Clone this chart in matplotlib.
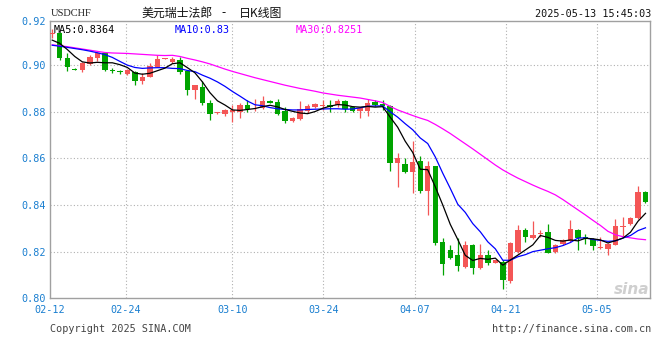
import matplotlib
matplotlib.use('Agg')
import matplotlib.pyplot as plt
import numpy as np

# ---------------- data ----------------
tick_labels = ['02-12', '02-24', '03-10', '03-24', '04-07', '04-21', '05-05']
tick_pos = [-0.3, 9.8, 24.0, 36.1, 48.3, 60.4, 72.5]

y_tick_vals = [0.80, 0.82, 0.84, 0.86, 0.88, 0.90, 0.9188]
y_tick_labels = ['0.80', '0.82', '0.84', '0.86', '0.88', '0.90', '0.92']

opens = [0.9131, 0.9137, 0.9029, 0.8983, 0.8979, 0.9005, 0.9031, 0.9050, 0.8977, 0.8970,
         0.8962, 0.8970, 0.8929, 0.8950, 0.8993, 0.9026, 0.9012, 0.9022, 0.8972, 0.8892,
         0.8905, 0.8837, 0.8793, 0.8791, 0.8799, 0.8799, 0.8830, 0.8809, 0.8816, 0.8847,
         0.8840, 0.8804, 0.8759, 0.8770, 0.8801, 0.8820, 0.8825, 0.8830, 0.8826, 0.8844,
         0.8818, 0.8801, 0.8804, 0.8840, 0.8833, 0.8823, 0.8578, 0.8575, 0.8539, 0.8589,
         0.8461, 0.8567, 0.8241, 0.8209, 0.8184, 0.8132, 0.8227, 0.8128, 0.8187, 0.8153,
         0.8156, 0.8074, 0.8199, 0.8294, 0.8258, 0.8277, 0.8284, 0.8199, 0.8234, 0.8244,
         0.8291, 0.8263, 0.8255, 0.8216, 0.8213, 0.8230, 0.8307, 0.8319, 0.8343, 0.8457]
highs = [0.9153, 0.9142, 0.9050, 0.8986, 0.9014, 0.9044, 0.9054, 0.9052, 0.8988, 0.8979,
         0.8982, 0.8975, 0.8965, 0.9008, 0.9043, 0.9031, 0.9033, 0.9033, 0.8977, 0.8915,
         0.8929, 0.8851, 0.8798, 0.8809, 0.8826, 0.8837, 0.8851, 0.8854, 0.8868, 0.8849,
         0.8854, 0.8818, 0.8775, 0.8847, 0.8834, 0.8837, 0.8848, 0.8851, 0.8854, 0.8851,
         0.8822, 0.8818, 0.8854, 0.8851, 0.8851, 0.8826, 0.8624, 0.8600, 0.8674, 0.8610,
         0.8589, 0.8567, 0.8260, 0.8227, 0.8260, 0.8244, 0.8234, 0.8234, 0.8206, 0.8165,
         0.8163, 0.8241, 0.8315, 0.8301, 0.8333, 0.8294, 0.8319, 0.8234, 0.8255, 0.8336,
         0.8295, 0.8277, 0.8260, 0.8262, 0.8239, 0.8340, 0.8350, 0.8350, 0.8480, 0.8461]
lows = [0.9114, 0.9021, 0.8972, 0.8976, 0.8969, 0.8998, 0.9015, 0.8975, 0.8965, 0.8960,
        0.8957, 0.8913, 0.8917, 0.8946, 0.8990, 0.9024, 0.9008, 0.8960, 0.8870, 0.8855,
        0.8826, 0.8766, 0.8791, 0.8780, 0.8755, 0.8773, 0.8799, 0.8801, 0.8811, 0.8837,
        0.8787, 0.8749, 0.8757, 0.8766, 0.8794, 0.8816, 0.8808, 0.8797, 0.8820, 0.8797,
        0.8799, 0.8773, 0.8780, 0.8823, 0.8806, 0.8546, 0.8475, 0.8535, 0.8450, 0.8451,
        0.8358, 0.8227, 0.8099, 0.8170, 0.8116, 0.8131, 0.8106, 0.8125, 0.8142, 0.8153,
        0.8040, 0.8064, 0.8196, 0.8241, 0.8255, 0.8263, 0.8192, 0.8192, 0.8227, 0.8241,
        0.8206, 0.8234, 0.8206, 0.8213, 0.8187, 0.8227, 0.8269, 0.8315, 0.8340, 0.8409]
closes = [0.9135, 0.9029, 0.8993, 0.8977, 0.9008, 0.9035, 0.9050, 0.8976, 0.8975, 0.8968,
          0.8978, 0.8929, 0.8950, 0.8996, 0.9024, 0.9029, 0.9024, 0.8970, 0.8893, 0.8912,
          0.8837, 0.8791, 0.8796, 0.8806, 0.8806, 0.8826, 0.8813, 0.8812, 0.8847, 0.8837,
          0.8790, 0.8759, 0.8773, 0.8811, 0.8823, 0.8833, 0.8828, 0.8821, 0.8844, 0.8813,
          0.8801, 0.8816, 0.8837, 0.8826, 0.8823, 0.8578, 0.8600, 0.8539, 0.8586, 0.8461,
          0.8567, 0.8238, 0.8146, 0.8173, 0.8138, 0.8227, 0.8128, 0.8187, 0.8153, 0.8163,
          0.8078, 0.8238, 0.8294, 0.8263, 0.8272, 0.8280, 0.8196, 0.8230, 0.8248, 0.8295,
          0.8260, 0.8252, 0.8222, 0.8220, 0.8232, 0.8308, 0.8310, 0.8343, 0.8457, 0.8412]

ma5 = [0.9106, 0.9092, 0.9066, 0.9036, 0.9013, 0.9008, 0.9011, 0.9009, 0.9009, 0.9001,
       0.8989, 0.8965, 0.8960, 0.8964, 0.8975, 0.8986, 0.9005, 0.9009, 0.8988, 0.8966,
       0.8927, 0.8881, 0.8846, 0.8828, 0.8807, 0.8805, 0.8809, 0.8813, 0.8821, 0.8827,
       0.8820, 0.8809, 0.8801, 0.8794, 0.8791, 0.8800, 0.8814, 0.8823, 0.8830, 0.8828,
       0.8821, 0.8819, 0.8822, 0.8819, 0.8821, 0.8776, 0.8733, 0.8673, 0.8625, 0.8553,
       0.8551, 0.8478, 0.8400, 0.8317, 0.8252, 0.8184, 0.8162, 0.8171, 0.8167, 0.8172,
       0.8142, 0.8164, 0.8185, 0.8207, 0.8229, 0.8269, 0.8261, 0.8248, 0.8245, 0.8250,
       0.8246, 0.8257, 0.8255, 0.8250, 0.8237, 0.8247, 0.8258, 0.8283, 0.8330, 0.8364]
ma10 = [0.9084, 0.9080, 0.9075, 0.9070, 0.9065, 0.9059, 0.9052, 0.9044, 0.9032, 0.9015,
        0.8999, 0.8989, 0.8985, 0.8987, 0.8988, 0.8988, 0.8985, 0.8984, 0.8976, 0.8971,
        0.8956, 0.8943, 0.8927, 0.8908, 0.8886, 0.8866, 0.8845, 0.8829, 0.8825, 0.8817,
        0.8812, 0.8809, 0.8807, 0.8807, 0.8809, 0.8810, 0.8811, 0.8812, 0.8812, 0.8810,
        0.8811, 0.8816, 0.8823, 0.8824, 0.8824, 0.8799, 0.8776, 0.8748, 0.8722, 0.8687,
        0.8663, 0.8606, 0.8536, 0.8471, 0.8403, 0.8368, 0.8320, 0.8285, 0.8242, 0.8212,
        0.8163, 0.8163, 0.8178, 0.8187, 0.8200, 0.8206, 0.8212, 0.8217, 0.8226, 0.8239,
        0.8258, 0.8259, 0.8252, 0.8248, 0.8244, 0.8246, 0.8258, 0.8269, 0.8290, 0.8302]
ma30 = [0.9086, 0.9082, 0.9078, 0.9073, 0.9068, 0.9063, 0.9058, 0.9053, 0.9051, 0.9050,
        0.9049, 0.9047, 0.9045, 0.9043, 0.9041, 0.9040, 0.9041, 0.9036, 0.9028, 0.9021,
        0.9013, 0.9004, 0.8993, 0.8982, 0.8972, 0.8963, 0.8954, 0.8945, 0.8937, 0.8929,
        0.8921, 0.8913, 0.8906, 0.8899, 0.8893, 0.8887, 0.8880, 0.8875, 0.8870, 0.8866,
        0.8862, 0.8858, 0.8852, 0.8846, 0.8839, 0.8822, 0.8807, 0.8795, 0.8783, 0.8772,
        0.8762, 0.8745, 0.8726, 0.8706, 0.8684, 0.8662, 0.8640, 0.8617, 0.8594, 0.8571,
        0.8550, 0.8532, 0.8515, 0.8500, 0.8485, 0.8471, 0.8458, 0.8443, 0.8423, 0.8401,
        0.8379, 0.8357, 0.8334, 0.8312, 0.8287, 0.8272, 0.8264, 0.8259, 0.8254, 0.8251]

# ---------------- figure ----------------
W, H = 660, 360
fig = plt.figure(figsize=(6.6, 3.6), dpi=100)
fig.patch.set_facecolor('white')

left, right, top, bottom = 50, 650, 21, 298.3
ax = fig.add_axes([left / W, (H - bottom) / H, (right - left) / W, (bottom - top) / H])
ax.set_facecolor('white')

x = np.arange(len(closes))
o = np.array(opens); c = np.array(closes); h = np.array(highs); l = np.array(lows)
up = c >= o
RED = '#f45656'
GREEN = '#00a400'
colors = np.where(up, RED, GREEN)

# wicks
ax.vlines(x, l, h, colors=colors, linewidth=0.9, zorder=2)
# bodies
body_bottom = np.minimum(o, c)
body_h = np.maximum(np.abs(c - o), 0.0004)
ax.bar(x, body_h, bottom=body_bottom, width=0.72, color=colors, linewidth=0, zorder=3)

# moving averages
ax.plot(x, ma30, color='#ff00ff', linewidth=0.9, zorder=4)
ax.plot(x, ma10, color='#0000ff', linewidth=0.9, zorder=5)
ax.plot(x, ma5, color='#000000', linewidth=0.9, zorder=6)

ax.set_xlim(-0.3, 79.6)
ax.set_ylim(0.80, 0.9188)

ax.set_yticks(y_tick_vals)
ax.set_yticklabels(y_tick_labels)
ax.set_xticks(tick_pos)
ax.set_xticklabels(tick_labels)
ax.tick_params(axis='both', length=0, colors='#1a7fd0', labelsize=7.3)
ax.tick_params(axis='y', pad=3.2)
ax.tick_params(axis='x', pad=5)
for t in ax.get_xticklabels() + ax.get_yticklabels():
    t.set_fontfamily('DejaVu Sans Mono')

# grid
for yv in [0.82, 0.84, 0.86, 0.88, 0.90]:
    ax.axhline(yv, color='#b0b0b0', linewidth=0.8, linestyle=(0, (1, 2)), zorder=1)
for xv in tick_pos[1:]:
    ax.axvline(xv, color='#b0b0b0', linewidth=0.8, linestyle=(0, (1, 2)), zorder=1)

for s in ax.spines.values():
    s.set_color('#a0a0a0')
    s.set_linewidth(1.0)

def px(xp, yp):
    return xp / W, 1 - yp / H

mono = 'DejaVu Sans Mono'
cjk = ['Noto Sans CJK SC', 'DejaVu Sans']
# legends inside plot
fig.text(*px(54, 30), 'MA5:0.8364', color='black', fontsize=7.3, family=mono, va='center', ha='left')
fig.text(*px(175, 30), 'MA10:0.83', color='#0000ff', fontsize=7.3, family=mono, va='center', ha='left')
fig.text(*px(296, 30), 'MA30:0.8251', color='#ff00ff', fontsize=7.3, family=mono, va='center', ha='left')

# header
fig.text(*px(51, 14), 'USDCHF', color='#222222', fontsize=7.5, family='Liberation Serif', va='center', ha='left')
fig.text(*px(141, 13), '美元瑞士法郎', color='#111111', fontsize=8.6, family=cjk, va='center', ha='left')
fig.text(*px(224, 13), '-', color='#111111', fontsize=8.6, family=cjk, va='center', ha='center')
fig.text(*px(239, 13), '日K线图', color='#111111', fontsize=8.6, family=cjk, va='center', ha='left')
fig.text(*px(651, 14), '2025-05-13 15:45:03', color='#111111', fontsize=7.3, family=mono, va='center', ha='right')

# footer
fig.text(*px(50, 329.5), 'Copyright 2025 SINA.COM', color='#444444', fontsize=7.3, family=mono, va='center', ha='left')
fig.text(*px(651, 329.5), 'http://finance.sina.com.cn', color='#444444', fontsize=7.3, family=mono, va='center', ha='right')

# watermark
fig.text(*px(632, 290), 'sina', color='#cfcfcf', fontsize=11, fontweight='bold', style='italic',
         family='DejaVu Sans', va='center', ha='center', zorder=0)

fig.savefig('out.png', dpi=100)
